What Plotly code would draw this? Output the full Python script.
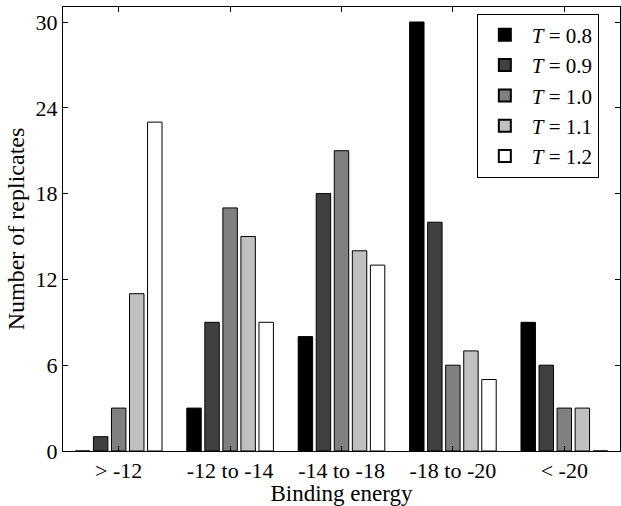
import plotly.graph_objects as go

categories = ["&gt; -12", "-12 to -14", "-14 to -18", "-18 to -20", "&lt; -20"]
series_names = ["<i>T</i> = 0.8", "<i>T</i> = 0.9", "<i>T</i> = 1.0", "<i>T</i> = 1.1", "<i>T</i> = 1.2"]
values = [
    [0, 3, 8, 30, 9],
    [1, 9, 18, 16, 6],
    [3, 17, 21, 6, 3],
    [11, 15, 14, 7, 3],
    [23, 9, 13, 5, 0],
]
colors = ["#000000", "#404040", "#808080", "#c0c0c0", "#ffffff"]
yticks = [0, 6, 12, 18, 24, 30]

xpos = list(range(1, len(categories) + 1))
font_family = "Liberation Serif, DejaVu Serif, serif"

fig = go.Figure()
for name, vals, col in zip(series_names, values, colors):
    fig.add_trace(go.Bar(
        x=xpos, y=vals, name=name,
        marker=dict(color=col, line=dict(color="#000000", width=1)),
    ))

fig.update_layout(
    width=621, height=506,
    margin=dict(l=63, r=1, t=7, b=55, autoexpand=False),
    paper_bgcolor="white", plot_bgcolor="white",
    barmode="group", bargap=0.19, bargroupgap=0.2,
    font=dict(family=font_family, size=22, color="black"),
    showlegend=True,
    legend=dict(
        x=0.962, y=0.985, xanchor="right", yanchor="top",
        bgcolor="white", bordercolor="black", borderwidth=1,
        font=dict(family=font_family, size=21),
        tracegroupgap=0, itemsizing="constant", itemwidth=44,
    ),
    xaxis=dict(
        range=[0.5, 5.5], tickmode="array", tickvals=xpos, ticktext=categories,
        showline=True, linecolor="black", linewidth=1, mirror="ticks",
        ticks="inside", ticklen=5, tickcolor="black",
        showgrid=False, zeroline=False, automargin=False,
        title=dict(text="Binding energy", standoff=0, font=dict(size=23)),
        tickfont=dict(size=22),
    ),
    yaxis=dict(
        range=[0, 31.05], tickmode="array", tickvals=yticks,
        showline=True, linecolor="black", linewidth=1, mirror="ticks",
        ticks="inside", ticklen=5, tickcolor="black",
        showgrid=False, zeroline=False, automargin=False,
        title=dict(text="Number of replicates", standoff=4, font=dict(size=24)),
        tickfont=dict(size=22),
    ),
)

fig.write_html(
    "out.html",
    config={"displayModeBar": False},
    post_script="document.body.style.margin='0';document.body.style.overflow='hidden';",
)
